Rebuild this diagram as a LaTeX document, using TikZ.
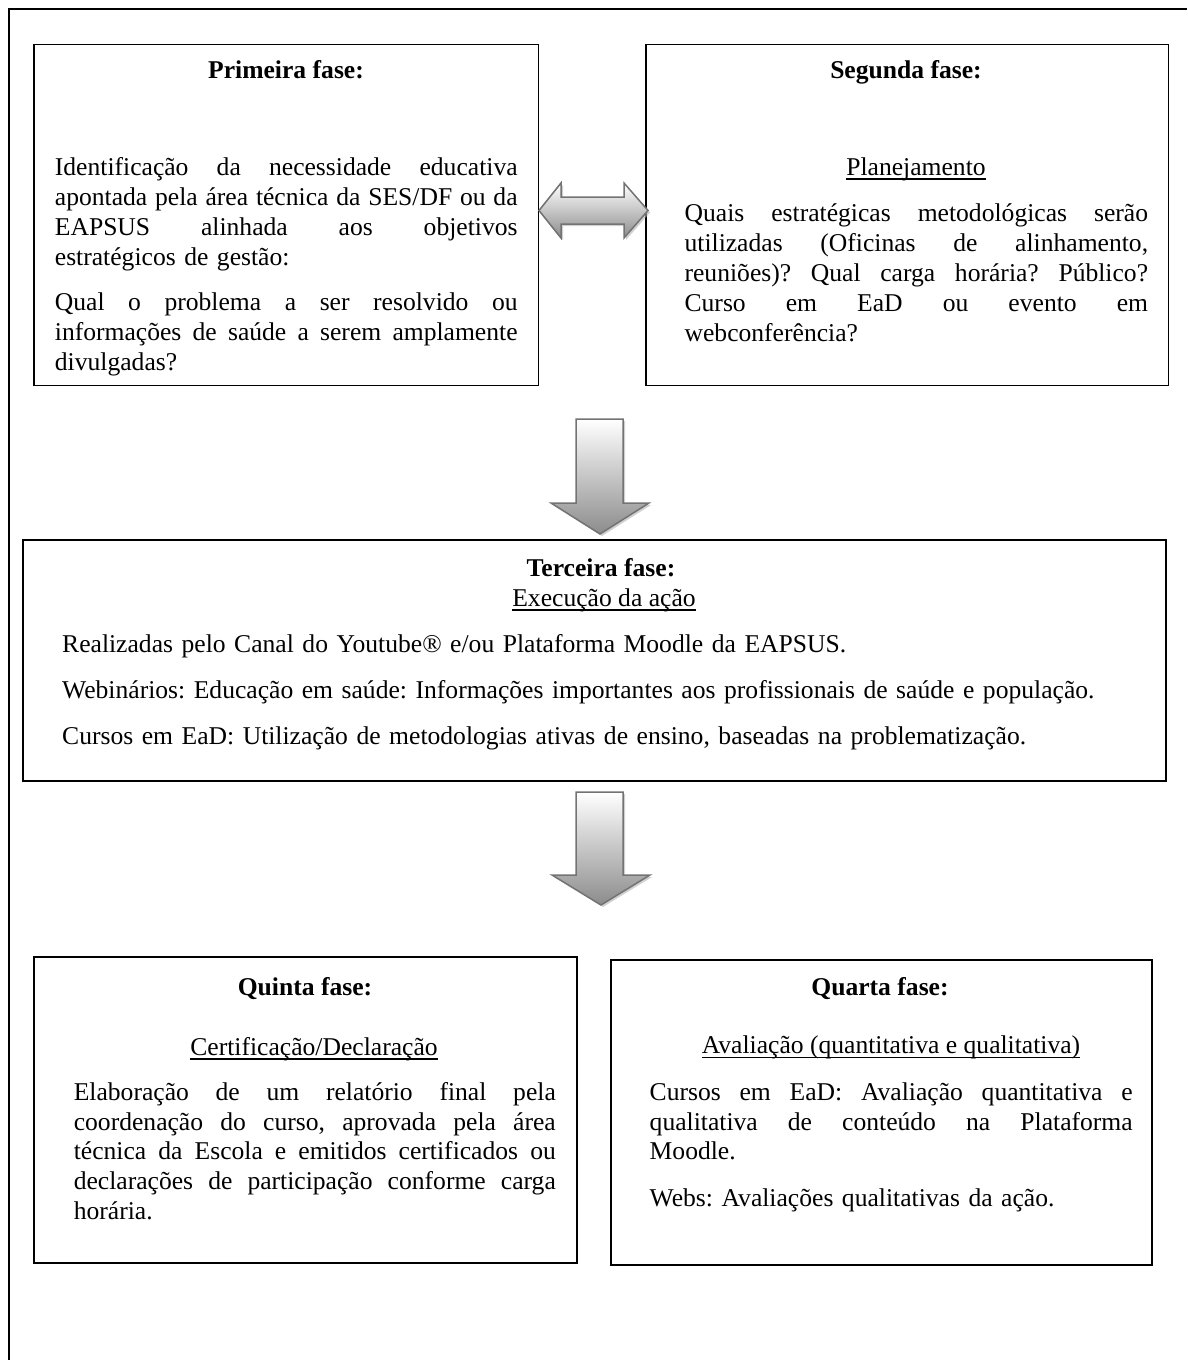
\documentclass[tikz,border=0pt]{standalone}
\usepackage{fontspec}
\setmainfont{Liberation Serif}
\usetikzlibrary{shadows}
\frenchspacing
\newsavebox\ulbox
\newcommand\ulx[1]{\sbox\ulbox{#1}\rlap{\rule[-4.5pt]{\wd\ulbox}{1.3pt}}\usebox\ulbox}
% justified line: spaces become equal flexible gaps filling width \jw
\newcommand\jw{463pt}
\newcommand\jl[1]{\leavevmode\hbox to \jw{\spaceskip=0pt plus 1fil\relax #1}}
\begin{document}
\begin{tikzpicture}[x=1pt,y=-1pt,
  box/.style={draw=black, line width=1.6pt, inner sep=0pt},
  txt/.style={font=\fontsize{25.6}{29.9}\selectfont\frenchspacing, inner sep=0pt},
  txtb/.style={font=\fontsize{25.6}{29.65}\selectfont\frenchspacing, inner sep=0pt},
  ttl/.style={font=\fontsize{25.6}{29.9}\selectfont\bfseries, inner sep=0pt, anchor=base},
  hdg/.style={txt, anchor=base},
  para/.style={txt, anchor=base west, align=left},
  parab/.style={txtb, anchor=base west, align=left},
  barrow/.style={draw=black!55, line width=1.5pt, line join=miter,
    top color=white, bottom color=black!45,
    drop shadow={shadow xshift=2pt, shadow yshift=-2pt, fill=black!30, opacity=0.6}}
]
\useasboundingbox (0,0) rectangle (1187,1360);
% outer frame (open to right and bottom)
\draw[line width=1.6pt] (9,1360) -- (9,9) -- (1187,9);

% boxes
\node[box, minimum width=504.5pt, minimum height=341pt] (p1) at (286.25,215) {};
\node[box, minimum width=522.5pt, minimum height=341pt] (p2) at (907.25,215) {};
\node[box, minimum width=1143pt, minimum height=241pt] (p3) at (594.5,660.5) {};
\node[box, minimum width=543pt, minimum height=306pt] (p5) at (305.5,1110) {};
\node[box, minimum width=541pt, minimum height=305pt] (p4) at (881.5,1112.5) {};

% block arrows
\path[barrow] (539,210.5) -- (561,183) -- (561,197) -- (624,197) -- (624,183) -- (648,210.5)
  -- (624,238) -- (624,224) -- (561,224) -- (561,238) -- cycle;
\path[barrow] (576,419) -- (623,419) -- (623,503) -- (649,503) -- (600,534) -- (551,503) -- (576,503) -- cycle;
\path[barrow] (576,792) -- (623,792) -- (623,875) -- (650,875) -- (601,905) -- (552,875) -- (576,875) -- cycle;

% Primeira fase
\node[ttl] (t1) at (286,78) {Primeira fase:};
\node[para, text width=463pt] (b1) at (54.7,175.5) {\renewcommand\jw{462.7pt}%
\jl{Identificação da necessidade educativa}\\
\jl{apontada pela área técnica da SES/DF ou da}\\
\jl{EAPSUS alinhada aos objetivos}\\
estratégicos de gestão:\\[15.5pt]
\jl{Qual o problema a ser resolvido ou}\\
\jl{informações de saúde a serem amplamente}\\
divulgadas?};

% Segunda fase
\node[ttl] (t2) at (906,78) {Segunda fase:};
\node[hdg] (h2) at (916,175) {\ulx{Planejamento}};
\node[para, text width=463.5pt] (b2) at (684.4,221) {\renewcommand\jw{463.5pt}%
\jl{Quais estratégicas metodológicas serão}\\[0.2pt]
\jl{utilizadas (Oficinas de alinhamento,}\\[0.2pt]
\jl{reuniões)? Qual carga horária? Público?}\\[0.2pt]
\jl{Curso em EaD ou evento em}\\[0.2pt]
webconferência?};

% Terceira fase
\node[ttl] (t3) at (601,576) {Terceira fase:};
\node[hdg] (h3) at (604,606) {\ulx{Execução da ação}};
\node[para, text width=1090pt] (b3) at (62,652.5) {Realizadas pelo Canal do Youtube® e/ou Plataforma Moodle da EAPSUS.\\[16.1pt]
Webinários: Educação em saúde: Informações importantes aos profissionais de saúde e população.\\[15.6pt]
Cursos em EaD: Utilização de metodologias ativas de ensino, baseadas na problematização.};

% Quinta fase
\node[ttl] (t5) at (305,995) {Quinta fase:};
\node[hdg] (h5) at (314,1055) {\ulx{Certificação/Declaração}};
\node[parab, text width=482pt] (b5) at (73.6,1100.5) {\renewcommand\jw{482pt}%
\jl{Elaboração de um relatório final pela}\\
\jl{coordenação do curso, aprovada pela área}\\
\jl{técnica da Escola e emitidos certificados ou}\\
\jl{declarações de participação conforme carga}\\
horária.};

% Quarta fase
\node[ttl] (t4) at (880,995) {Quarta fase:};
\node[hdg] (h4) at (891,1053.5) {\ulx{Avaliação (quantitativa e qualitativa)}};
\node[parab, text width=483pt] (b4) at (649.5,1100.5) {\renewcommand\jw{483pt}%
\jl{Cursos em EaD: Avaliação quantitativa e}\\
\jl{qualitativa de conteúdo na Plataforma}\\
Moodle.\\[17.5pt]
Webs: Avaliações qualitativas da ação.};
\end{tikzpicture}
\end{document}
